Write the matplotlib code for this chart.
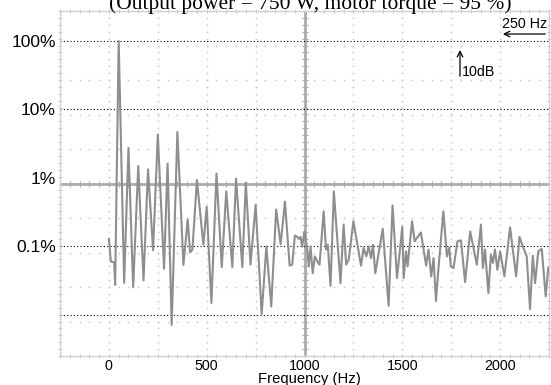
import numpy as np
import matplotlib
matplotlib.use('Agg')
import matplotlib.pyplot as plt
from matplotlib.ticker import NullLocator

# Spectrum trace (peaks and dips), level in dB re. fundamental
freq_hz = [0, 10, 27, 32, 50, 78, 100, 124, 150, 177, 200, 226, 250, 282, 300, 321,
           350, 381, 403, 415, 427, 450, 483, 500, 524, 550, 577, 600, 631, 650, 682,
           700, 724, 750, 781, 805, 830, 855, 878, 900, 924, 937, 951, 963, 971, 980,
           988, 1000, 1014, 1022, 1031, 1042, 1053, 1066, 1077, 1098, 1110, 1119, 1133,
           1150, 1184, 1200, 1213, 1226, 1250, 1289, 1302, 1316, 1328, 1340, 1350, 1362,
           1400, 1430, 1450, 1473, 1500, 1507, 1519, 1527, 1550, 1563, 1575, 1595, 1622,
           1634, 1648, 1660, 1672, 1685, 1710, 1728, 1740, 1748, 1762, 1782, 1800, 1821,
           1847, 1881, 1902, 1912, 1923, 1940, 1953, 1963, 1974, 1986, 2000, 2022, 2051,
           2082, 2099, 2119, 2136, 2153, 2167, 2179, 2195, 2213, 2233, 2246]
level_db = [-57.8, -64.4, -64.6, -71.2, 0.0, -70.6, -31.2, -71.9, -36.5, -69.9, -37.5,
            -61.1, -27.3, -66.5, -35.8, -82.9, -26.6, -65.4, -52.1, -61.7, -60.9, -40.6,
            -59.5, -48.4, -76.5, -38.7, -66.0, -43.9, -66.0, -40.2, -66.0, -41.4, -65.3,
            -47.8, -79.7, -60.0, -77.5, -49.2, -59.3, -46.9, -65.6, -65.3, -56.8, -57.2,
            -57.8, -57.2, -60.0, -55.6, -60.9, -65.8, -60.0, -67.8, -62.9, -64.4, -65.3,
            -49.7, -60.9, -59.5, -71.5, -43.9, -70.7, -53.6, -65.3, -63.9, -52.6, -65.6,
            -60.4, -62.9, -60.0, -63.4, -59.5, -67.8, -54.8, -77.3, -48.0, -69.2, -54.3,
            -69.2, -61.4, -65.8, -52.6, -58.5, -57.5, -55.9, -65.6, -60.9, -68.7, -63.4,
            -75.9, -66.3, -49.7, -62.9, -60.3, -65.8, -66.3, -58.5, -58.2, -70.4, -55.6,
            -65.3, -53.6, -66.3, -60.9, -73.6, -62.4, -64.8, -60.9, -66.8, -61.4, -68.7,
            -54.4, -68.7, -57.2, -60.4, -62.9, -78.3, -62.7, -70.7, -61.4, -60.7, -74.6,
            -66.3]

y_ticks = [100, 10, 1, 0.1]
y_labels = ['100%', '10%', '1%', '0.1%']
ref_lines = [100, 10, 0.1, 0.01]
x_ticks = [0, 500, 1000, 1500, 2000]

pct = 100 * 10 ** (np.array(level_db) / 20)

fig = plt.figure(figsize=(5.51, 3.85), dpi=100)
ax = fig.add_axes([60 / 551, 29 / 385, 489 / 551, 345 / 385])
ax.set_xlim(-250, 2250)
ax.set_yscale('log')
ax.set_ylim(0.00252, 274)

# scope graticule (10 x 10 divisions, drawn in axes coords)
sub = np.linspace(0, 1, 51)
grat = '#c6c6c6'
for k in range(1, 10):
    if k == 5:
        continue
    ax.plot(sub, [k / 10] * len(sub), ls='none', marker='s', ms=1.1, mew=0,
            color=grat, transform=ax.transAxes, zorder=1)
    ax.plot([k / 10] * len(sub), sub, ls='none', marker='s', ms=1.1, mew=0,
            color=grat, transform=ax.transAxes, zorder=1)
cen = '#ababab'
ax.plot([0, 1], [0.5, 0.5], color=cen, lw=2, transform=ax.transAxes, zorder=1)
ax.plot([0.5, 0.5], [0, 1], color=cen, lw=2, transform=ax.transAxes, zorder=1)
ax.plot(sub, [0.5] * len(sub), ls='none', marker='|', ms=4, mew=0.8, color=cen,
        transform=ax.transAxes, zorder=1)
ax.plot([0.5] * len(sub), sub, ls='none', marker='_', ms=4, mew=0.8, color=cen,
        transform=ax.transAxes, zorder=1)
for e in (0, 1):
    ax.plot(sub, [e] * len(sub), ls='none', marker='|', ms=3, mew=0.7, color=grat,
            transform=ax.transAxes, zorder=1, clip_on=False)
    ax.plot([e] * len(sub), sub, ls='none', marker='_', ms=3, mew=0.7, color=grat,
            transform=ax.transAxes, zorder=1, clip_on=False)
for s in ax.spines.values():
    s.set_color('#cfcfcf')
    s.set_linewidth(1)

for v in ref_lines:
    ax.axhline(v, color='black', lw=0.8, ls=(0, (1, 2)), zorder=2)

ax.plot(freq_hz, pct, color='#8e8e8e', lw=1.5, zorder=3)

ax.set_yticks(y_ticks, y_labels)
ax.yaxis.set_minor_locator(NullLocator())
ax.set_xticks(x_ticks)
ax.tick_params(axis='y', length=0, pad=3, labelsize=12.5)
ax.tick_params(axis='x', length=0, pad=2.2, labelsize=10.3)
for lab in ax.get_xticklabels() + ax.get_yticklabels():
    lab.set_fontfamily('Liberation Sans')

ax.annotate('', xy=(2000, 0.9333), xytext=(2245, 0.9333),
            xycoords=('data', 'axes fraction'),
            arrowprops=dict(arrowstyle='->', lw=0.9, color='black'))
ax.text(2242, 0.951, '250 Hz', transform=ax.get_xaxis_transform(), ha='right',
        va='baseline', fontsize=10.3, family='Liberation Sans')
ax.annotate('', xy=(1795, 0.895), xytext=(1795, 0.803),
            xycoords=('data', 'axes fraction'),
            arrowprops=dict(arrowstyle='->', lw=0.9, color='black'))
ax.text(1805, 0.8116, '10dB', transform=ax.get_xaxis_transform(), ha='left',
        va='baseline', fontsize=10.3, family='Liberation Sans')

fig.text(309 / 551, 1 - 382.6 / 385, 'Frequency (Hz)', ha='center', va='baseline',
         fontsize=10.7, family='Liberation Sans')
fig.text(310 / 551, 1 - 8.5 / 385, '(Output power = 750 W, motor torque = 95 %)',
         ha='center', va='baseline', fontsize=15.5, family='Liberation Serif')

fig.savefig('out.png', dpi=100)
